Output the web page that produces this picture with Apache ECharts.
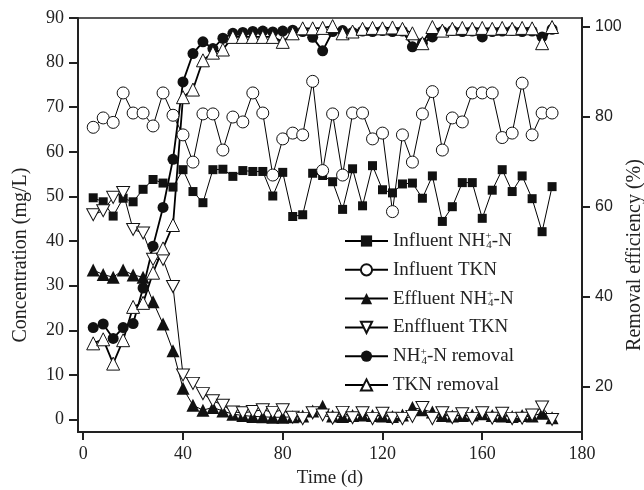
<!DOCTYPE html>
<html><head><meta charset="utf-8">
<script src="https://cdn.jsdelivr.net/npm/echarts@6/dist/echarts.min.js"></script>
<style>html,body{margin:0;padding:0;background:#fff}#c{width:644px;height:490px}</style>
</head><body><div id="c"></div>
<script>
// Time (d)
const days = [4,8,12,16,20,24,28,32,36,40,44,48,52,56,60,64,68,72,76,80,84,88,92,96,100,104,108,112,116,120,124,128,132,136,140,144,148,152,156,160,164,168,172,176,180,184,188];
// Concentration (mg/L)
const influentNH4 = [49.7,48.8,45.6,49.6,48.8,51.6,53.8,53.0,52.1,56.0,51.1,48.6,56.0,56.1,54.5,55.8,55.6,55.6,50.1,55.4,45.5,45.9,55.2,54.7,53.3,47.1,56.2,47.9,56.9,51.5,50.8,52.8,53.0,49.6,54.6,44.4,47.7,53.1,53.1,45.1,51.4,56.0,51.1,54.6,49.5,42.1,52.2];
const influentTKN = [65.5,67.6,66.6,73.2,68.7,68.7,65.8,73.2,68.2,63.8,57.7,68.5,68.5,60.4,67.8,66.7,73.2,68.7,54.8,62.9,64.2,63.8,75.8,55.8,68.5,54.8,68.7,68.7,62.9,64.2,46.6,63.8,57.7,68.5,73.5,60.4,67.6,66.7,73.2,73.2,73.2,63.2,64.2,75.4,63.8,68.7,68.7];
const effluentNH4 = [33.5,32.5,31.9,33.5,32.4,31.9,26.4,21.4,15.4,7.0,3.2,2.1,2.7,1.9,1.2,0.9,0.7,0.6,0.5,0.5,0.6,0.8,1.9,3.0,0.8,0.7,0.9,1.0,0.9,0.8,0.7,1.0,2.7,2.2,1.7,0.9,0.8,0.9,1.0,1.3,0.9,0.8,0.7,0.9,0.8,1.4,0.4];
const effluentTKN = [45.9,46.8,49.8,50.9,42.6,41.8,35.9,35.9,29.8,10.0,8.1,5.8,4.2,3.2,1.7,1.5,1.8,2.2,1.6,2.2,0.5,0.2,1.5,1.0,0.3,1.6,0.4,1.5,0.2,1.4,0.3,0.2,0.7,2.7,0.2,1.5,0.4,1.3,0.2,1.5,0.3,1.4,0.2,0.3,1.0,2.8,0.0];
// Removal efficiency (%)
const removalNH4 = [33.2,34.0,30.8,33.2,34.1,42.0,51.3,59.9,70.6,87.8,94.1,96.7,95.2,97.5,98.6,98.8,99.0,99.1,98.9,99.1,99.3,99.0,97.7,94.7,99.0,99.2,98.8,99.1,99.0,99.2,99.0,99.1,95.6,96.4,97.8,99.0,99.2,99.0,99.1,97.8,99.0,99.1,99.2,99.0,99.1,97.8,99.5];
const removalTKN = [29.7,30.6,25.2,30.4,37.8,38.7,45.4,50.8,56.0,84.4,86.1,92.6,94.3,95.0,97.8,97.8,97.8,97.8,97.8,96.7,98.6,99.7,99.7,99.8,100.2,98.6,99.0,99.6,99.8,99.7,99.9,99.6,98.6,96.4,100.0,99.2,99.6,99.8,99.6,99.8,99.6,99.8,99.6,99.8,99.7,96.4,100.0];
// Axis tick labels
const xTickValues = [0,40,80,120,160,200];
const xTickLabels = ['0','40','80','120','160','180'];
const yLeftTicks = [0,10,20,30,40,50,60,70,80,90];
const yRightTicks = [20,40,60,80,100];
const seriesNames = ['Influent NH4+-N','Influent TKN','Effluent NH4+-N','Enffluent TKN','NH4+-N removal','TKN removal'];

const pair = arr => arr.map((v,i)=>[days[i], v]);
const serif = 'Liberation Serif';
const invTri = 'path://M0,0L20,0L10,17Z';

const legendRich = {
  t:{fontFamily:serif,fontSize:19,color:'#222'},
  sub:{fontFamily:serif,fontSize:11,color:'#222',padding:[9,0,0,0]},
  sup:{fontFamily:serif,fontSize:11,color:'#222',padding:[0,0,9,0],width:1}
};
function legendFmt(name){
  if(name.indexOf('NH4+')>=0){
    const parts = name.split('NH4+');
    let s = '';
    if(parts[0]) s += '{t|'+parts[0]+'NH}'; else s += '{t|NH}';
    s += '{sup|+}{sub|4}{t|'+parts[1]+'}';
    return s;
  }
  return '{t|'+name+'}';
}

const chart = echarts.init(document.getElementById('c'), null, {renderer:'canvas'});
const blackLine = w => ({color:'#000', width:w});
chart.setOption({
  backgroundColor:'#fff',
  animation:false,
  grid:{left:78, right:62, top:18, bottom:58, show:true, borderColor:'#222', borderWidth:1.5, backgroundColor:'transparent', containLabel:false, outerBoundsMode:'none'},
  legend:{
    orient:'vertical', left:344, top:231, padding:0, itemWidth:43, itemHeight:14, itemGap:9.3,
    formatter:legendFmt, textStyle:{fontFamily:serif,fontSize:19,color:'#222',rich:legendRich},
    data:seriesNames
  },
  xAxis:{
    type:'value', min:-2.1, max:200,
    name:'Time (d)', nameLocation:'middle', nameGap:37, nameMoveOverlap:false,
    nameTextStyle:{fontFamily:serif,fontSize:19,color:'#222'},
    axisLine:{onZero:false, lineStyle:{color:'#222',width:2}},
    axisTick:{show:true, inside:false, length:8, lineStyle:{color:'#222',width:2}, customValues:xTickValues},
    axisLabel:{customValues:xTickValues, margin:13, fontFamily:serif, fontSize:18, color:'#222',
      formatter:v=>{const i=xTickValues.indexOf(v); return i>=0?xTickLabels[i]:'';}},
    splitLine:{show:false}
  },
  yAxis:[{
    type:'value', min:-2.8, max:90, position:'left',
    name:'Concentration (mg/L)', nameLocation:'middle', nameGap:47, nameMoveOverlap:false,
    nameTextStyle:{fontFamily:serif,fontSize:20,color:'#222',padding:[0,60,0,0]},
    axisLine:{show:true, onZero:false, lineStyle:{color:'#222',width:2}},
    axisTick:{show:true, length:9, lineStyle:{color:'#222',width:2}, customValues:yLeftTicks},
    axisLabel:{customValues:yLeftTicks, margin:14, fontFamily:serif, fontSize:18, color:'#222'},
    splitLine:{show:false}
  },{
    type:'value', min:10, max:102, position:'right',
    name:'Removal efficiency (%)', nameLocation:'middle', nameGap:43, nameMoveOverlap:false,
    nameTextStyle:{fontFamily:serif,fontSize:20,color:'#222',padding:[0,60,0,0]},
    axisLine:{show:true, onZero:false, lineStyle:{color:'#222',width:2}},
    axisTick:{show:true, length:8, lineStyle:{color:'#222',width:2}, customValues:yRightTicks},
    axisLabel:{customValues:yRightTicks, margin:13, fontFamily:'Liberation Sans', fontSize:16, color:'#222'},
    splitLine:{show:false}
  }],
  series:[
    {name:seriesNames[0], type:'line', yAxisIndex:0, data:pair(influentNH4), symbol:'rect', symbolSize:9,
      itemStyle:{color:'#111'}, lineStyle:blackLine(1)},
    {name:seriesNames[1], type:'line', yAxisIndex:0, data:pair(influentTKN), symbol:'circle', symbolSize:12,
      itemStyle:{color:'#fff', borderColor:'#111', borderWidth:1}, lineStyle:blackLine(1)},
    {name:seriesNames[2], type:'line', yAxisIndex:0, data:pair(effluentNH4), symbol:'triangle', symbolSize:13,
      itemStyle:{color:'#111'}, lineStyle:blackLine(1)},
    {name:seriesNames[3], type:'line', yAxisIndex:0, data:pair(effluentTKN), symbol:invTri, symbolSize:[13,12],
      itemStyle:{color:'#fff', borderColor:'#111', borderWidth:1}, lineStyle:blackLine(1)},
    {name:seriesNames[4], type:'line', yAxisIndex:1, data:pair(removalNH4), symbol:'circle', symbolSize:11,
      itemStyle:{color:'#111'}, lineStyle:blackLine(1.8)},
    {name:seriesNames[5], type:'line', yAxisIndex:1, data:pair(removalTKN), symbol:'triangle', symbolSize:13,
      itemStyle:{color:'#fff', borderColor:'#111', borderWidth:1}, lineStyle:blackLine(1.8)}
  ]
});
</script>
</body></html>
